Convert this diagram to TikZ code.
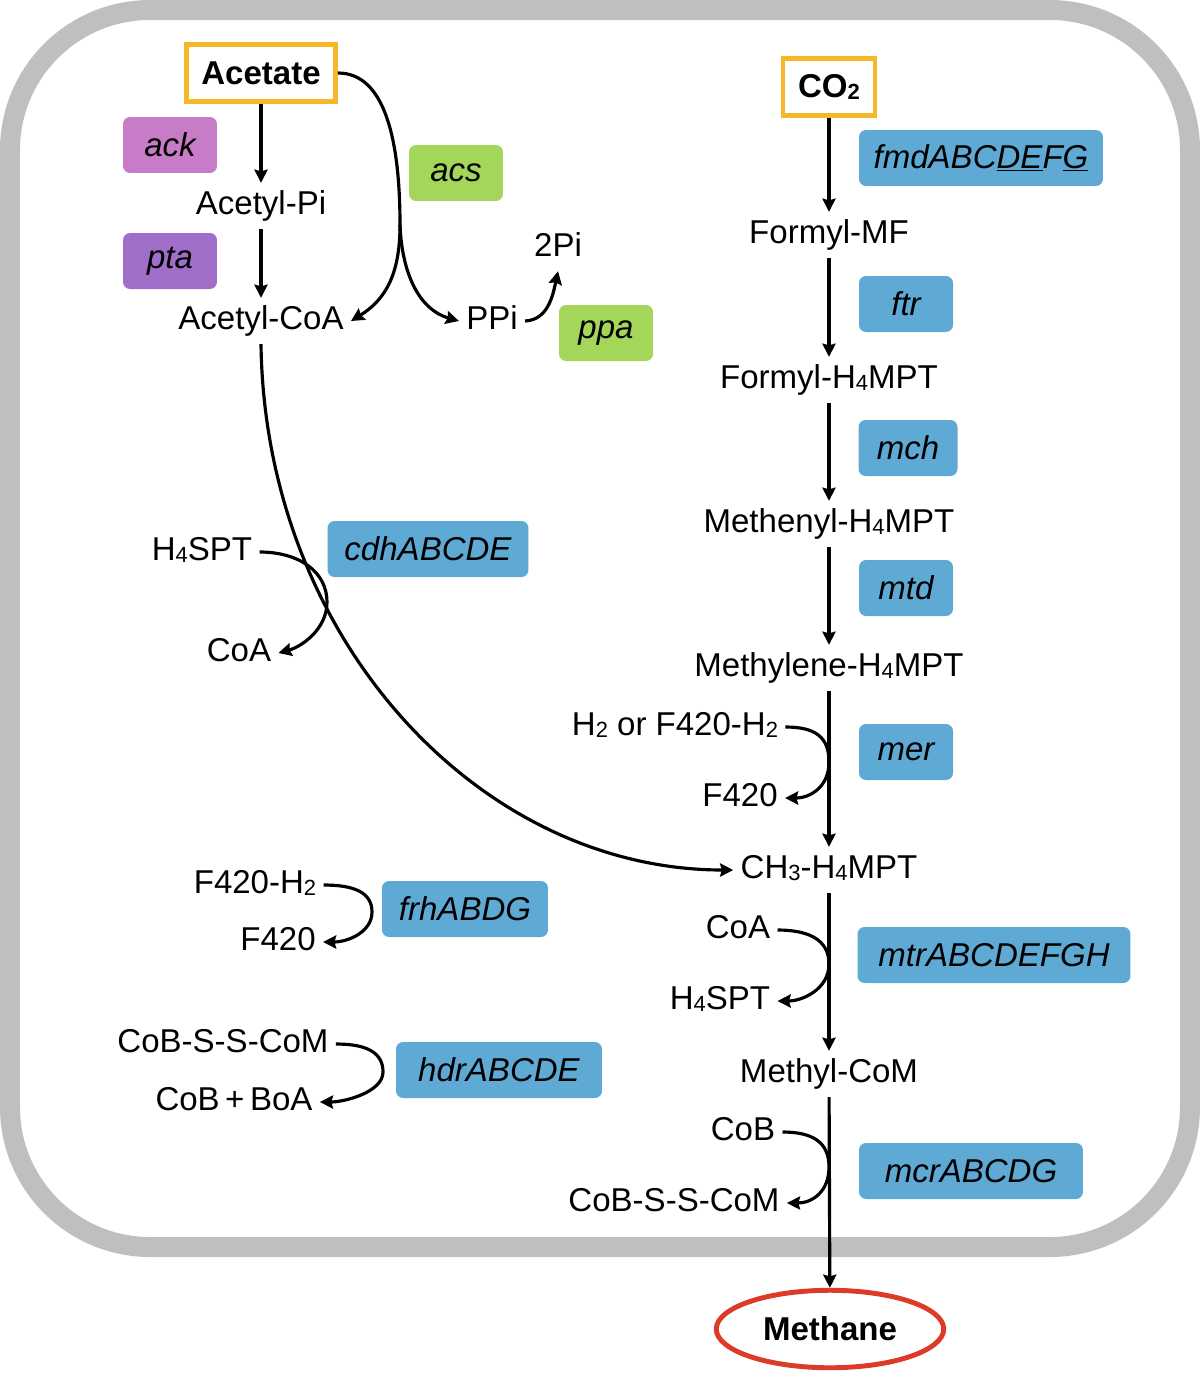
\documentclass[tikz,border=0pt]{standalone}
\usepackage{fontspec}
\setmainfont{Liberation Sans}
\usetikzlibrary{arrows.meta,shapes,calc,positioning}
\definecolor{cellgray}{RGB}{191,191,191}
\definecolor{srcorange}{RGB}{246,184,40}
\definecolor{ackpink}{RGB}{200,124,200}
\definecolor{ptapurple}{RGB}{160,110,200}
\definecolor{acsgreen}{RGB}{164,214,90}
\definecolor{geneblue}{RGB}{94,170,213}
\definecolor{methred}{RGB}{222,58,40}
\newcommand{\lblsize}{\fontsize{18.8}{22}\selectfont}
\newcommand{\sbs}[1]{\raisebox{-0.1ex}{\fontsize{12.5}{12.5}\selectfont #1}}
\tikzstyle{rxn}   =[->, >={Stealth[length=7.5pt,width=7.5pt,inset=1pt]},
                    line width=1.8pt]
\tikzstyle{gene}  =[rectangle, rounded corners=4pt, minimum height=1.12cm,
                    inner sep=0pt, font=\lblsize\itshape, fill=geneblue]
\tikzstyle{cpd}   =[inner sep=4pt, text height=14pt, text depth=4pt]
\tikzstyle{source}=[draw=srcorange, line width=2.8pt, font=\lblsize\bfseries,
                    minimum height=1.15cm, inner sep=0pt]

\begin{document}
\begin{tikzpicture}[x=0.02cm, y=-0.02cm, font=\lblsize]
        \useasboundingbox (0,0) rectangle (1200,1373);
        \draw[cellgray, line width=0.4cm, rounded corners=2.8cm] (10,10) rectangle (1190,1247);

        \node[source, minimum width=2.98cm] (acet) at (261,73) {Acetate};
        \node[source, minimum width=1.84cm] (co2) at (829,87) {CO\sbs{2}};
        \node[ellipse, draw=methred, line width=2.8pt, fill=white, minimum width=4.55cm,
              minimum height=1.55cm, font=\lblsize\bfseries] (ch4) at (830,1329) {Methane};

        \node[gene, fill=ackpink, minimum width=1.88cm] (ack) at (170,145) {ack};
        \node[gene, fill=ptapurple, minimum width=1.88cm] (pta) at (170,261) {pta};
        \node[gene, fill=acsgreen, minimum width=1.88cm] (acs) at (456,173) {acs};
        \node[gene, fill=acsgreen, minimum width=1.88cm] (ppa) at (606,333) {ppa};
        \node[gene, minimum width=4.88cm] (fmd) at (981,158) {fmdABC\underline{DE}F\underline{G}};
        \node[gene, minimum width=1.88cm] (ftr) at (906,304) {ftr};
        \node[gene, minimum width=1.98cm] (mch) at (908,448) {mch};
        \node[gene, minimum width=1.88cm] (mtd) at (906,588) {mtd};
        \node[gene, minimum width=1.88cm] (mer) at (906,752) {mer};
        \node[gene, minimum width=5.46cm] (mtr) at (994,955) {mtrABCDEFGH};
        \node[gene, minimum width=4.48cm] (mcr) at (971,1171) {mcrABCDG};
        \node[gene, minimum width=4.02cm] (cdh) at (428,549) {cdhABCDE};
        \node[gene, minimum width=3.32cm] (frh) at (465,909) {frhABDG};
        \node[gene, minimum width=4.12cm] (hdr) at (499,1070) {hdrABCDE};

        \node[cpd] (acpi) at (261,206) {Acetyl-Pi};
        \node[cpd] (accoa) at (261,321) {Acetyl-CoA};
        \node[cpd] (ppi) at (492,321) {PPi};
        \node[cpd] (pi2) at (558,248) {2Pi};

        \node[cpd] (fmf) at (829,235) {Formyl-MF};
        \node[cpd] (fh4) at (829,380) {Formyl-H\sbs{4}MPT};
        \node[cpd] (menyl) at (829,524) {Methenyl-H\sbs{4}MPT};
        \node[cpd] (mlene) at (829,668) {Methylene-H\sbs{4}MPT};
        \node[cpd] (ch3) at (829,870) {CH\sbs{3}-H\sbs{4}MPT};
        \node[cpd] (mcom) at (829,1074) {Methyl-CoM};

        \node[cpd] (h2) at (675,727) {H\sbs{2} or F420-H\sbs{2}};
        \node[cpd] (f420r) at (740,798) {F420};
        \node[cpd] (coar) at (738,930) {CoA};
        \node[cpd] (h4r) at (720,1001) {H\sbs{4}SPT};
        \node[cpd] (cobr) at (743,1132) {CoB};
        \node[cpd] (cobsr) at (674,1203) {CoB-S-S-CoM};

        \node[cpd] (h4l) at (202,552) {H\sbs{4}SPT};
        \node[cpd] (coal) at (239,653) {CoA};
        \node[cpd] (f420h2) at (255,885) {F420-H\sbs{2}};
        \node[cpd] (f420l) at (278,942) {F420};
        \node[cpd] (cobsl) at (223,1044) {CoB-S-S-CoM};
        \node[cpd] (cobboa) at (234,1102) {CoB\,+\,BoA};

        \coordinate (fork) at (400,225);
        \coordinate (cdhx) at (327,602);
        \coordinate (merx) at (829,762);
        \coordinate (mtrx) at (829,964);
        \coordinate (mcrx) at (829,1167);
        \coordinate (frhx) at (372,912);
        \coordinate (hdrx) at (383,1072);

        \draw[rxn] (acet) to (acpi);
        \draw[rxn] (acpi) to (accoa);
        \draw[line width=1.8pt] (acet.east) .. controls (385,73) and (400,140) .. (fork);
        \draw[rxn] (fork) .. controls (400,275) and (385,300) .. (accoa.east);
        \draw[rxn] (fork) .. controls (402,275) and (420,310) .. (ppi.west);
        \draw[rxn] (ppi.east) .. controls (548,320) and (553,295) .. (pi2.south);
        \draw[rxn] (accoa.south) .. controls (265,640) and (480,870) .. (ch3.west);
        \draw[rxn] (h4l.east) .. controls +(40,0) and +(0,-30) .. (cdhx)
                   .. controls +(0,28) and +(22,-6) .. (coal.east);

        \draw[rxn] (co2) to (fmf);
        \draw[rxn] (fmf) to (fh4);
        \draw[rxn] (fh4) to (menyl);
        \draw[rxn] (menyl) to (mlene);
        \draw[rxn] (mlene) to (ch3);
        \draw[rxn] (ch3) to (mcom);
        \draw[rxn] (mcom) to (ch4);

        \draw[rxn] (h2.east) .. controls +(30,0) and +(0,-25) .. (merx)
                   .. controls +(0,25) and +(25,0) .. (f420r.east);
        \draw[rxn] (coar.east) .. controls +(30,0) and +(0,-25) .. (mtrx)
                   .. controls +(0,25) and +(25,0) .. (h4r.east);
        \draw[rxn] (cobr.east) .. controls +(30,0) and +(0,-25) .. (mcrx)
                   .. controls +(0,25) and +(25,0) .. (cobsr.east);
        \draw[rxn] (f420h2.east) .. controls +(30,0) and +(0,-20) .. (frhx)
                   .. controls +(0,20) and +(25,0) .. (f420l.east);
        \draw[rxn] (cobsl.east) .. controls +(30,0) and +(0,-20) .. (hdrx)
                   .. controls +(0,20) and +(25,0) .. (cobboa.east);
\end{tikzpicture}
\end{document}
